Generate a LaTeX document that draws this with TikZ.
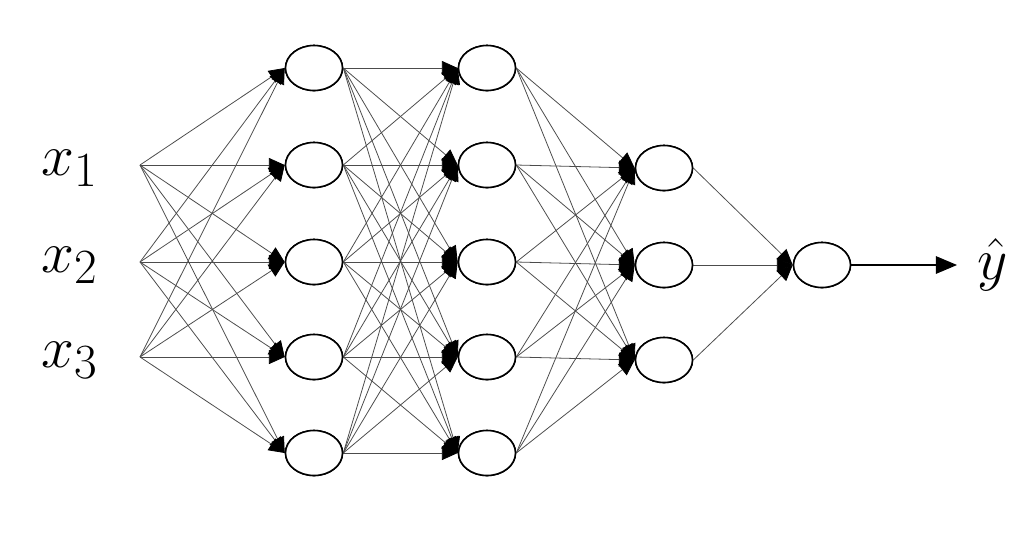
\documentclass[tikz,border=0pt]{standalone}
\usetikzlibrary{arrows.meta,shapes.geometric}
\newcommand{\biglbl}[1]{\scalebox{1.35}{\Huge$#1$}}
\begin{document}
\begin{tikzpicture}[x=0.02cm,y=-0.02cm,
  neuron/.style={draw=black,line width=0.9pt,ellipse,minimum width=57*0.02cm,minimum height=45*0.02cm,inner sep=0pt,fill=white},
  wire/.style={draw=black!70,line width=0.45pt,-{Triangle[length=9pt,width=8pt,color=black]}},
  lbl/.style={inner sep=0pt}]
\useasboundingbox (0,0) rectangle (1025,539);
% inputs
\foreach \i/\y in {1/165,2/262,3/357} {
  \coordinate (in\i) at (140,\y);
}
\node[lbl] (lx1) at (70,168) {\biglbl{x_1}};
\node[lbl] (lx2) at (70,265) {\biglbl{x_2}};
\node[lbl] (lx3) at (70,360) {\biglbl{x_3}};
% layers
\foreach \i/\y in {1/68,2/165,3/262,4/357,5/453} {
  \node[neuron] (a\i) at (314,\y) {};
  \node[neuron] (b\i) at (487,\y) {};
}
\foreach \i/\y in {1/168,2/265,3/360} {
  \node[neuron] (c\i) at (664,\y) {};
}
\node[neuron] (d1) at (822,265) {};
% connections
\foreach \s in {1,2,3} \foreach \t in {1,...,5} \draw[wire] (in\s) -- (a\t.west);
\foreach \s in {1,...,5} \foreach \t in {1,...,5} \draw[wire] (a\s.east) -- (b\t.west);
\foreach \s in {1,...,5} \foreach \t in {1,2,3} \draw[wire] (b\s.east) -- (c\t.west);
\foreach \s in {1,2,3} \draw[wire] (c\s.east) -- (d1.west);
% redraw neurons on top
\foreach \i/\y in {1/68,2/165,3/262,4/357,5/453} {
  \node[neuron] at (314,\y) {};
  \node[neuron] at (487,\y) {};
}
\foreach \i/\y in {1/168,2/265,3/360} {
  \node[neuron] at (664,\y) {};
}
\node[neuron] at (822,265) {};
% output
\coordinate (outend) at (957,265);
\draw[draw=black,line width=0.6pt,-{Triangle[length=12pt,width=10pt]}] (d1.east) -- (outend);
\node[lbl] (yhat) at (993,265) {\biglbl{\hat{y}}};
\end{tikzpicture}
\end{document}
